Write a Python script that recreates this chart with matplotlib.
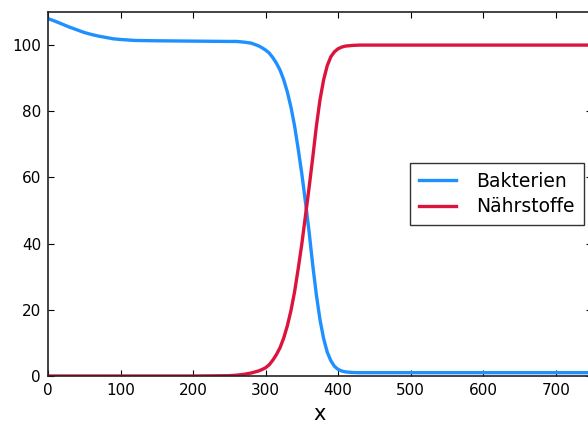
import matplotlib
matplotlib.use("Agg")
import matplotlib.pyplot as plt

# sampled curve values (x positions shared by both series)
x = [0, 10, 20, 30, 40, 50, 60, 70, 80, 90, 100, 120, 150, 200, 250,
     260, 270, 280, 290, 295, 300, 305, 310, 315, 320, 325, 330, 335, 340, 345,
     350, 355, 360, 365, 370, 375, 380, 385, 390, 395, 400, 405, 410, 420,
     430, 450, 500, 600, 700, 750]
bakterien = [108.0, 107.2, 106.3, 105.4, 104.6, 103.8, 103.2, 102.7, 102.3, 101.9,
             101.7, 101.4, 101.3, 101.2, 101.1,
             101.1, 100.9, 100.6, 99.8, 99.2, 98.5, 97.6, 96.2, 94.5, 92.4, 89.5, 85.8,
             81.2, 75.5, 68.5,
             61.0, 52.5, 43.5, 33.5, 24.5, 17.0, 11.3, 7.2, 4.6, 2.9, 2.0, 1.5,
             1.25, 1.05,
             1.0, 1.0, 1.0, 1.0, 1.0, 1.0]
naehrstoffe = [0.0, 0.0, 0.0, 0.0, 0.0, 0.0, 0.0, 0.0, 0.0, 0.0,
               0.0, 0.0, 0.0, 0.0, 0.1,
               0.25, 0.5, 0.9, 1.5, 1.95, 2.5, 3.4, 4.8, 6.5, 8.6, 11.5, 15.2,
               19.8, 25.5, 32.5,
               40.0, 48.5, 57.0, 66.0, 75.5, 83.5, 89.5, 93.8, 96.5, 98.0, 98.9,
               99.4, 99.7, 99.9,
               100.0, 100.0, 100.0, 100.0, 100.0, 100.0]

fig = plt.figure(figsize=(5.88, 4.26), dpi=100)
ax = fig.add_axes([48 / 588, 50 / 426, 544 / 588, 364 / 426])

ax.plot(x, bakterien, color="#1E90FF", lw=2.4, label="Bakterien")
ax.plot(x, naehrstoffe, color="#DC143C", lw=2.4, label="Nährstoffe")

ax.set_xlim(0, 750)
ax.set_ylim(0, 110)
ax.set_xticks(range(0, 800, 100))
ax.set_yticks(range(0, 120, 20))
ax.tick_params(direction="in", top=True, right=True, length=4, width=0.8,
               labelsize=11, pad=5)
for s in ax.spines.values():
    s.set_linewidth(1.2)
    s.set_color("#222222")
ax.set_xlabel("x", fontsize=15, labelpad=4)

leg = ax.legend(loc="center right", fontsize=13.5, fancybox=False,
                handlelength=2.0, handletextpad=1.1, borderpad=0.45,
                labelspacing=0.35, borderaxespad=0.45)
leg.get_frame().set_edgecolor("black")
leg.get_frame().set_linewidth(1.0)

fig.savefig("out.png", dpi=100)
